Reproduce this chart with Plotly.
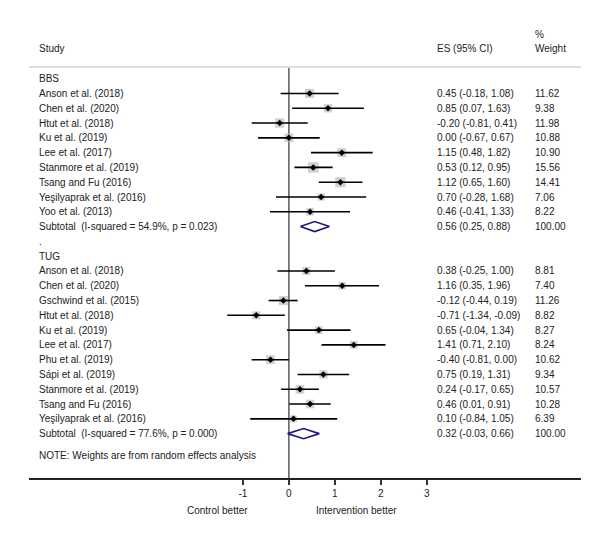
import plotly.graph_objects as go

# BBS
bbs_study = ["Anson et al. (2018)", "Chen et al. (2020)", "Htut et al. (2018)", "Ku et al. (2019)",
             "Lee et al. (2017)", "Stanmore et al. (2019)", "Tsang and Fu (2016)",
             "Yeşilyaprak et al. (2016)", "Yoo et al. (2013)"]
bbs_es = [0.45, 0.85, -0.20, 0.00, 1.15, 0.53, 1.12, 0.70, 0.46]
bbs_lo = [-0.18, 0.07, -0.81, -0.67, 0.48, 0.12, 0.65, -0.28, -0.41]
bbs_hi = [1.08, 1.63, 0.41, 0.67, 1.82, 0.95, 1.60, 1.68, 1.33]
bbs_w = [11.62, 9.38, 11.98, 10.88, 10.90, 15.56, 14.41, 7.06, 8.22]
bbs_sub = [0.56, 0.25, 0.88]
bbs_label = "Subtotal  (I-squared = 54.9%, p = 0.023)"

# TUG
tug_study = ["Anson et al. (2018)", "Chen et al. (2020)", "Gschwind et al. (2015)", "Htut et al. (2018)",
             "Ku et al. (2019)", "Lee et al. (2017)", "Phu et al. (2019)", "Sápi et al. (2019)",
             "Stanmore et al. (2019)", "Tsang and Fu (2016)", "Yeşilyaprak et al. (2016)"]
tug_es = [0.38, 1.16, -0.12, -0.71, 0.65, 1.41, -0.40, 0.75, 0.24, 0.46, 0.10]
tug_lo = [-0.25, 0.35, -0.44, -1.34, -0.04, 0.71, -0.81, 0.19, -0.17, 0.01, -0.84]
tug_hi = [1.00, 1.96, 0.19, -0.09, 1.34, 2.10, 0.00, 1.31, 0.65, 0.91, 1.05]
tug_w = [8.81, 7.40, 11.26, 8.82, 8.27, 8.24, 10.62, 9.34, 10.57, 10.28, 6.39]
tug_sub = [0.32, -0.03, 0.66]
tug_label = "Subtotal  (I-squared = 77.6%, p = 0.000)"

tick_vals = [-1, 0, 1, 2, 3]
tick_text = ["-1", "0", "1", "2", "3"]

FONT = "Liberation Sans, Arial, sans-serif"
TXT = "#222222"

# assemble rows
rows = []  # (row, es, lo, hi, w)
texts = [(0, "BBS", None, None)]
r = 1
for s, e, lo, hi, w in zip(bbs_study, bbs_es, bbs_lo, bbs_hi, bbs_w):
    rows.append((r, e, lo, hi, w))
    texts.append((r, s, f"{e:.2f} ({lo:.2f}, {hi:.2f})", f"{w:.2f}"))
    r += 1
bbs_row = r
texts.append((r, bbs_label, f"{bbs_sub[0]:.2f} ({bbs_sub[1]:.2f}, {bbs_sub[2]:.2f})", "100.00"))
texts.append((r + 1, ".", None, None))
texts.append((r + 2, "TUG", None, None))
r += 3
for s, e, lo, hi, w in zip(tug_study, tug_es, tug_lo, tug_hi, tug_w):
    rows.append((r, e, lo, hi, w))
    texts.append((r, s, f"{e:.2f} ({lo:.2f}, {hi:.2f})", f"{w:.2f}"))
    r += 1
tug_row = r
texts.append((r, tug_label, f"{tug_sub[0]:.2f} ({tug_sub[1]:.2f}, {tug_sub[2]:.2f})", "100.00"))
note_row = r + 1.5

fig = go.Figure()

# weight boxes
fig.add_trace(go.Scatter(
    x=[q[1] for q in rows], y=[q[0] for q in rows], mode="markers",
    marker=dict(symbol="square", color="#bdbdbd", size=[2.7 * q[4] ** 0.5 for q in rows], line=dict(width=0)),
    hoverinfo="skip", cliponaxis=False))

# CI lines
cx, cy = [], []
for q in rows:
    cx += [q[2], q[3], None]
    cy += [q[0], q[0], None]
fig.add_trace(go.Scatter(x=cx, y=cy, mode="lines", line=dict(color="black", width=1.6), hoverinfo="skip"))

# point estimates
fig.add_trace(go.Scatter(
    x=[q[1] for q in rows], y=[q[0] for q in rows], mode="markers",
    marker=dict(symbol="diamond", color="black", size=5), hoverinfo="skip"))

# subtotal diamonds
for sub, rr in [(bbs_sub, bbs_row), (tug_sub, tug_row)]:
    h = 0.34
    fig.add_trace(go.Scatter(
        x=[sub[1], sub[0], sub[2], sub[0], sub[1]], y=[rr, rr - h, rr, rr + h, rr],
        mode="lines", line=dict(color="#1a1a80", width=1.6), fill="toself", fillcolor="white",
        hoverinfo="skip"))

x_study, x_es, x_w = -5.48, 3.18, 5.31
ann = []
for rr, s, es, w in texts:
    ann.append(dict(x=x_study, y=rr, text=s, xanchor="left", showarrow=False))
    if es:
        ann.append(dict(x=x_es, y=rr, text=es, xanchor="left", showarrow=False))
        ann.append(dict(x=x_w, y=rr, text=w, xanchor="left", showarrow=False))
ann.append(dict(x=x_study, y=note_row, text="NOTE: Weights are from random effects analysis",
                xanchor="left", showarrow=False))
# header and axis captions (paper y)
for xx, yy, t, anc in [(x_study, 1.044, "Study", "left"), (x_es, 1.044, "ES (95% CI)", "left"),
                       (x_w, 1.044, "Weight", "left"), (x_w, 1.080, "%", "left"),
                       (-1.55, -0.078, "Control better", "center"),
                       (1.48, -0.078, "Intervention better", "center")]:
    ann.append(dict(x=xx, y=yy, xref="x", yref="paper", text=t, xanchor=anc, yanchor="middle",
                    showarrow=False))

# page body has an 8px margin, so the figure is shifted by 8px
fig.update_layout(
    width=588, height=531,
    margin=dict(l=21, r=15, t=59, b=61),
    plot_bgcolor="white", paper_bgcolor="white",
    showlegend=False,
    font=dict(family=FONT, size=10, color=TXT),
    annotations=ann,
    shapes=[
        dict(type="line", xref="x", yref="y", x0=0, x1=0, y0=-0.79, y1=27.0,
             line=dict(color="#333333", width=1.2), layer="below"),
        dict(type="line", xref="paper", yref="paper", x0=0, x1=1, y0=1, y1=1,
             line=dict(color="#dddddd", width=2)),
    ],
)
fig.update_xaxes(range=[-5.65, 6.35], tickvals=tick_vals, ticktext=tick_text, ticks="outside",
                 ticklen=5, tickwidth=1.5, tickcolor="#333333", showline=True, linecolor="#222222",
                 linewidth=1.5, showgrid=False, zeroline=False, tickfont=dict(size=10, color=TXT))
fig.update_yaxes(range=[27.0, -0.79], showticklabels=False, showgrid=False, zeroline=False, showline=False)

fig.write_html("out.html")
